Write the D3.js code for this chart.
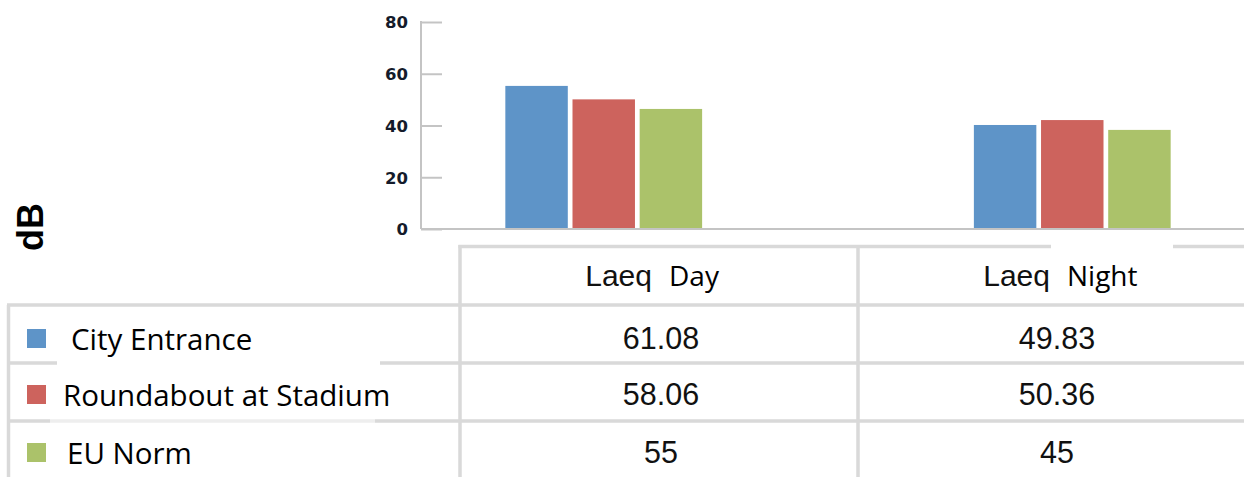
<!DOCTYPE html>
<html>
<head>
<meta charset="utf-8">
<script src="https://cdn.jsdelivr.net/npm/d3@7"></script>
<style>
  html, body { margin: 0; padding: 0; background: #fff; }
  svg { display: block; }
</style>
</head>
<body>
<svg id="chart" width="1244" height="477"></svg>
<script>
// ---- data ----
const categories = ["Laeq Day", "Laeq Night"];
const headerPrefix = ["Laeq", "Laeq"];
const headerWord = ["Day", "Night"];
const seriesNames = ["City Entrance", "Roundabout at Stadium", "EU Norm"];
const seriesColors = ["#5e94c8", "#cd635d", "#abc26a"];
// bar heights as drawn in the chart (dB)
const barsCityEntrance = [55.3, 40.2];
const barsRoundabout = [50.1, 42.1];
const barsEUNorm = [46.4, 38.3];
// values printed in the data table
const tableCityEntrance = ["61.08", "49.83"];
const tableRoundabout = ["58.06", "50.36"];
const tableEUNorm = ["55", "45"];
const yTicks = [0, 20, 40, 60, 80];
const yLabel = "dB";

const barSeries = [barsCityEntrance, barsRoundabout, barsEUNorm];
const tableSeries = [tableCityEntrance, tableRoundabout, tableEUNorm];

// ---- layout ----
const svg = d3.select("#chart");
const axisX = 421, yTop = 22, yBase = 229;
const gridColor = "#d9d9d9";
const tableLineW = 3.5;

const y = d3.scaleLinear().domain([0, 80]).range([yBase, yTop]);
const x0 = d3.scaleBand().domain(categories).range([axisX, 1255])
  .paddingInner(0.58).paddingOuter(0.18);
const x1 = d3.scaleBand().domain(seriesNames).range([0, x0.bandwidth()])
  .paddingInner(0.07);

// y axis
const yAxis = d3.axisRight(y).tickValues(yTicks).tickSize(21).tickFormat(d3.format("d"));
const gy = svg.append("g").attr("transform", `translate(${axisX},0)`).call(yAxis);
gy.select(".domain").remove();
gy.selectAll(".tick line").attr("stroke", "#c4c4c4").attr("stroke-width", 2);
gy.selectAll(".tick text")
  .attr("x", -13).attr("text-anchor", "end").attr("dy", "0.36em")
  .attr("font-family", "DejaVu Sans").attr("font-weight", "bold")
  .attr("font-size", 16.5).attr("fill", "#141b2b");
svg.append("line").attr("x1", axisX).attr("x2", axisX).attr("y1", yTop - 1).attr("y2", yBase)
  .attr("stroke", "#c4c4c4").attr("stroke-width", 2);

// bars
const groups = svg.append("g").selectAll("g").data(categories).join("g")
  .attr("transform", d => `translate(${x0(d)},0)`);
groups.selectAll("rect")
  .data((d, ci) => seriesNames.map((s, si) => ({ s, si, v: barSeries[si][ci] })))
  .join("rect")
  .attr("x", d => x1(d.s))
  .attr("width", x1.bandwidth())
  .attr("y", d => y(d.v))
  .attr("height", d => y(0) - y(d.v))
  .attr("fill", d => seriesColors[d.si]);

// baseline
svg.append("line").attr("x1", axisX).attr("x2", 1244).attr("y1", yBase).attr("y2", yBase)
  .attr("stroke", "#c4c4c4").attr("stroke-width", 2);

// y label
svg.append("text").attr("transform", "translate(43,227) rotate(-90)")
  .attr("text-anchor", "middle").attr("font-family", "Liberation Sans")
  .attr("font-weight", "bold").attr("font-size", 36).attr("fill", "#000").text(yLabel);

// ---- table ----
const tbl = svg.append("g");
const headerTop = 246.5;
const rowTops = [305, 363, 421];
const tableBottom = 477;
const colEdges = [460, 858, 1256];
const colCenters = categories.map((c, i) => (colEdges[i] + colEdges[i + 1]) / 2);
const line = (x1_, y1_, x2_, y2_) => tbl.append("line")
  .attr("x1", x1_).attr("y1", y1_).attr("x2", x2_).attr("y2", y2_)
  .attr("stroke", gridColor).attr("stroke-width", tableLineW);

line(colEdges[0] - 1.5, headerTop, 1244, headerTop);
rowTops.forEach(r => line(7, r, 1244, r));
line(8.5, rowTops[0], 8.5, tableBottom);
colEdges.slice(0, 2).forEach(c => line(c, headerTop - 1.5, c, tableBottom));

// white text-box patches from the original overlay
tbl.append("rect").attr("x", 57).attr("y", 358).attr("width", 323).attr("height", 9).attr("fill", "#fff");
tbl.append("rect").attr("x", 50).attr("y", 418).attr("width", 325).attr("height", 6).attr("fill", "#fff").attr("opacity", 0.55);
tbl.append("rect").attr("x", 1051).attr("y", 243).attr("width", 122).attr("height", 49).attr("fill", "#fff");

// header
categories.forEach((c, i) => {
  tbl.append("text").attr("x", colCenters[i] - 7).attr("y", 286)
    .attr("text-anchor", "end").attr("font-family", "Liberation Sans")
    .attr("font-size", 30).attr("fill", "#111").text(headerPrefix[i]);
  tbl.append("text").attr("x", colCenters[i] + 10).attr("y", 285.5)
    .attr("text-anchor", "start").attr("font-family", "Open Sans")
    .attr("font-size", 28).attr("fill", "#000").text(headerWord[i]);
});

// rows
const rowBaselines = [349, 405, 463];
const legendTextX = [71, 63, 67];
seriesNames.forEach((s, si) => {
  const yb = rowBaselines[si];
  tbl.append("rect").attr("x", 27).attr("y", yb - 20).attr("width", 19).attr("height", 19)
    .attr("fill", seriesColors[si]);
  tbl.append("text").attr("x", legendTextX[si]).attr("y", yb + 1)
    .attr("font-family", "Open Sans").attr("font-size", 29.5).attr("fill", "#000").text(s);
  categories.forEach((c, ci) => {
    tbl.append("text").attr("x", colCenters[ci] + (ci === 0 ? 2 : 0)).attr("y", yb)
      .attr("text-anchor", "middle").attr("font-family", "Liberation Sans")
      .attr("font-size", 30.5).attr("fill", "#111").text(tableSeries[si][ci]);
  });
});
</script>
</body>
</html>
